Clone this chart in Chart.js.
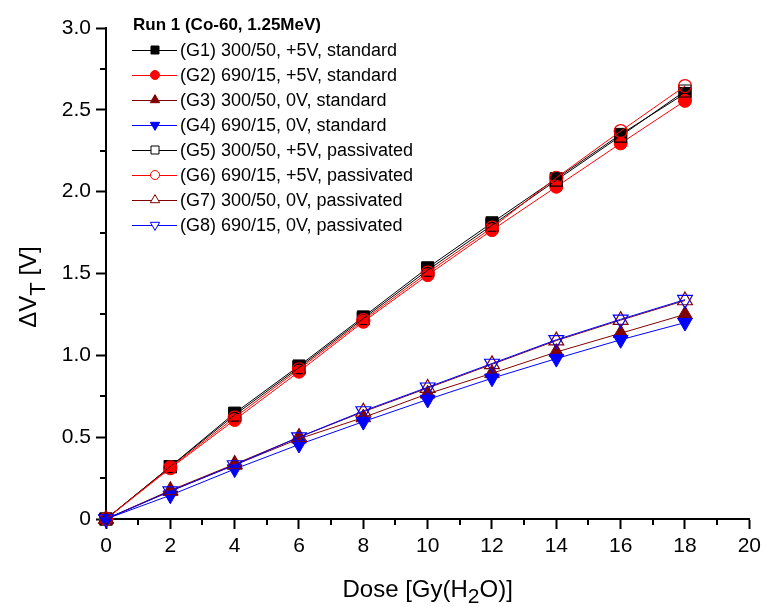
<!DOCTYPE html>
<html>
<head>
<meta charset="utf-8">
<script src="https://cdn.jsdelivr.net/npm/chart.js@4.4.1/dist/chart.umd.min.js"></script>
<style>
  body { margin: 0; background: #fff; }
</style>
</head>
<body>
<canvas id="chart" width="766" height="607"></canvas>
<script>
// dose values (x) and the measured threshold shifts per group
const doses = [0, 2, 4, 6, 8, 10, 12, 14, 16, 18];
const g1 = [0, 0.32, 0.647, 0.935, 1.235, 1.535, 1.81, 2.08, 2.35, 2.60];
const g2 = [0, 0.31, 0.605, 0.90, 1.205, 1.49, 1.765, 2.03, 2.295, 2.555];
const g3 = [0, 0.17, 0.33, 0.49, 0.62, 0.765, 0.89, 1.02, 1.135, 1.25];
const g4 = [0, 0.145, 0.305, 0.455, 0.595, 0.73, 0.86, 0.98, 1.095, 1.20];
const g5 = [0, 0.32, 0.635, 0.925, 1.225, 1.52, 1.795, 2.07, 2.34, 2.615];
const g6 = [0, 0.315, 0.62, 0.915, 1.215, 1.505, 1.78, 2.085, 2.37, 2.645];
const g7 = [0, 0.175, 0.335, 0.50, 0.655, 0.80, 0.945, 1.09, 1.215, 1.335];
const g8 = [0, 0.17, 0.33, 0.50, 0.66, 0.805, 0.95, 1.095, 1.22, 1.34];

const seriesLabels = [
    '(G1) 300/50, +5V, standard',
    '(G2) 690/15, +5V, standard',
    '(G3) 300/50, 0V, standard',
    '(G4) 690/15, 0V, standard',
    '(G5) 300/50, +5V, passivated',
    '(G6) 690/15, +5V, passivated',
    '(G7) 300/50, 0V, passivated',
    '(G8) 690/15, 0V, passivated'
];
const legendTitle = 'Run 1 (Co-60, 1.25MeV)';
const xTitle = ['Dose [Gy(H', '2', 'O)]'];
const yTitle = ['\u0394V', 'T', ' [V]'];

const FONT = 'Arial, "Liberation Sans", sans-serif';

// marker look for each group
const styles = [
    { color: '#000000', shape: 'rect', filled: true, rot: 0 },
    { color: '#ff0000', shape: 'circle', filled: true, rot: 0 },
    { color: '#800000', shape: 'triangle', filled: true, rot: 0 },
    { color: '#0000ff', shape: 'triangle', filled: true, rot: 180 },
    { color: '#000000', shape: 'rect', filled: false, rot: 0 },
    { color: '#ff0000', shape: 'circle', filled: false, rot: 0 },
    { color: '#800000', shape: 'triangle', filled: false, rot: 0 },
    { color: '#0000ff', shape: 'triangle', filled: false, rot: 180 }
];
const allSeries = [g1, g2, g3, g4, g5, g6, g7, g8];

function radiusFor(shape) {
    if (shape === 'rect') return 8.5;
    if (shape === 'circle') return 6.5;
    return 8.5;
}

const datasets = allSeries.map((vals, i) => {
    const s = styles[i];
    return {
        label: seriesLabels[i],
        data: doses.map((d, k) => ({ x: d, y: vals[k] })),
        borderColor: s.color,
        borderWidth: 1,
        backgroundColor: s.filled ? s.color : 'rgba(255,255,255,0)',
        pointStyle: s.shape,
        pointRotation: s.rot,
        pointRadius: radiusFor(s.shape),
        pointBorderColor: s.color,
        pointBorderWidth: s.filled ? 1 : 1.2,
        pointBackgroundColor: s.filled ? s.color : 'rgba(255,255,255,0)',
        tension: 0,
        clip: false,
        order: 8 - i
    };
});

// small marker painter for the legend
function drawMarker(ctx, s, x, y, r) {
    ctx.save();
    ctx.beginPath();
    if (s.shape === 'rect') {
        ctx.rect(x - r, y - r, 2 * r, 2 * r);
    } else if (s.shape === 'circle') {
        ctx.arc(x, y, r, 0, Math.PI * 2);
    } else {
        const dir = s.rot ? -1 : 1;
        const R = r * 1.35;
        ctx.moveTo(x, y - dir * R);
        ctx.lineTo(x + R * 0.866, y + dir * R * 0.5);
        ctx.lineTo(x - R * 0.866, y + dir * R * 0.5);
        ctx.closePath();
    }
    ctx.lineWidth = 1;
    ctx.strokeStyle = s.color;
    ctx.fillStyle = s.filled ? s.color : '#fff';
    ctx.fill();
    ctx.stroke();
    ctx.restore();
}

const extrasPlugin = {
    id: 'extras',
    afterDraw(chart) {
        const ctx = chart.ctx;
        const xs = chart.scales.x;
        const ys = chart.scales.y;
        const area = chart.chartArea;

        // minor ticks
        ctx.save();
        ctx.strokeStyle = '#000';
        ctx.lineWidth = 2;
        for (let v = 1; v < 20; v += 2) {
            const px = Math.round(xs.getPixelForValue(v));
            ctx.beginPath();
            ctx.moveTo(px, area.bottom);
            ctx.lineTo(px, area.bottom + 6);
            ctx.stroke();
        }
        for (let v = 0.25; v < 3; v += 0.5) {
            const py = Math.round(ys.getPixelForValue(v));
            ctx.beginPath();
            ctx.moveTo(area.left, py);
            ctx.lineTo(area.left - 6, py);
            ctx.stroke();
        }
        ctx.restore();

        // x axis title with subscript
        ctx.save();
        ctx.fillStyle = '#000';
        ctx.textBaseline = 'alphabetic';
        const mainF = '24px ' + FONT;
        const subF = '21px ' + FONT;
        ctx.font = mainF;
        const w0 = ctx.measureText(xTitle[0]).width;
        const w2 = ctx.measureText(xTitle[2]).width;
        ctx.font = subF;
        const w1 = ctx.measureText(xTitle[1]).width;
        let tx = (area.left + area.right) / 2 - (w0 + w1 + w2) / 2;
        const ty = 597;
        ctx.font = mainF;
        ctx.fillText(xTitle[0], tx, ty);
        ctx.font = subF;
        ctx.fillText(xTitle[1], tx + w0, ty + 6);
        ctx.font = mainF;
        ctx.fillText(xTitle[2], tx + w0 + w1, ty);
        ctx.restore();

        // y axis title with subscript
        ctx.save();
        ctx.fillStyle = '#000';
        ctx.translate(36, 287);
        ctx.rotate(-Math.PI / 2);
        ctx.font = mainF;
        const a0 = ctx.measureText(yTitle[0]).width;
        const a2 = ctx.measureText(yTitle[2]).width;
        ctx.font = '22px ' + FONT;
        const a1 = ctx.measureText(yTitle[1]).width;
        let sx = -(a0 + a1 + a2) / 2;
        ctx.font = mainF;
        ctx.fillText(yTitle[0], sx, 0);
        ctx.font = '22px ' + FONT;
        ctx.fillText(yTitle[1], sx + a0, 9);
        ctx.font = mainF;
        ctx.fillText(yTitle[2], sx + a0 + a1, 0);
        ctx.restore();

        // legend
        ctx.save();
        ctx.textBaseline = 'middle';
        ctx.fillStyle = '#000';
        ctx.font = 'bold 17px ' + FONT;
        ctx.fillText(legendTitle, 133, 25);
        ctx.font = '18px ' + FONT;
        for (let i = 0; i < seriesLabels.length; i++) {
            const s = styles[i];
            const ly = 50 + 25 * i;
            ctx.strokeStyle = s.color;
            ctx.lineWidth = 1;
            ctx.beginPath();
            ctx.moveTo(132, ly + 0.5);
            ctx.lineTo(177, ly + 0.5);
            ctx.stroke();
            drawMarker(ctx, s, 155, ly, s.shape === 'circle' ? 4.5 : 4);
            ctx.fillStyle = '#000';
            ctx.fillText(seriesLabels[i], 180, ly + 1);
        }
        ctx.restore();
    }
};

new Chart(document.getElementById('chart'), {
    type: 'line',
    data: { datasets: datasets },
    options: {
        responsive: false,
        animation: false,
        devicePixelRatio: 1,
        layout: { padding: { top: 28, right: 16, left: 0, bottom: 0 } },
        plugins: {
            legend: { display: false },
            tooltip: { enabled: false }
        },
        scales: {
            x: {
                type: 'linear',
                min: 0,
                max: 20,
                afterFit: (scale) => { scale.height = 88; },
                border: { color: '#000', width: 2 },
                grid: { drawOnChartArea: false, drawTicks: true, tickLength: 10, tickColor: '#000', tickWidth: 2 },
                ticks: { stepSize: 2, color: '#000', padding: 5, maxRotation: 0, font: { family: FONT, size: 21 } }
            },
            y: {
                min: 0,
                max: 3,
                afterFit: (scale) => { scale.width = 106; },
                border: { color: '#000', width: 2 },
                grid: { drawOnChartArea: false, drawTicks: true, tickLength: 10, tickColor: '#000', tickWidth: 2 },
                ticks: {
                    stepSize: 0.5,
                    color: '#000',
                    padding: 5,
                    font: { family: FONT, size: 21 },
                    callback: (v) => v === 0 ? '0' : v.toFixed(1)
                }
            }
        }
    },
    plugins: [extrasPlugin]
});
</script>
</body>
</html>
